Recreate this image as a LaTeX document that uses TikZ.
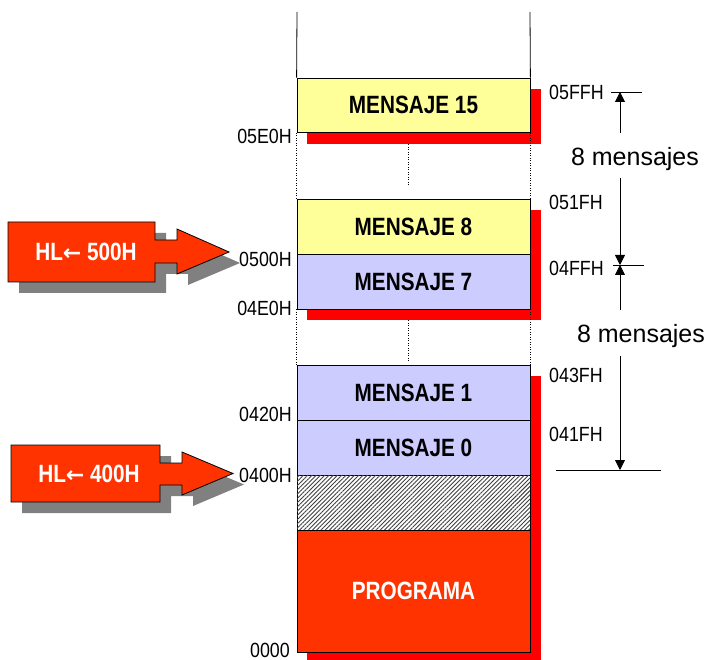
\documentclass[tikz,border=0pt]{standalone}
\usepackage{fontspec}
\setmainfont{Liberation Sans}
\newfontfamily\lblfont{Liberation Sans}[FakeStretch=0.87]
\newfontfamily\boldlbl{Liberation Sans Bold}[FakeStretch=0.83]
\newfontfamily\cntfont{Liberation Sans}
\newfontfamily\arrowfont{DejaVu Sans Bold}
\usetikzlibrary{arrows.meta,patterns.meta}
\definecolor{msgyellow}{HTML}{FFFF99}
\definecolor{msgblue}{HTML}{CCCCFF}
\definecolor{progred}{HTML}{FF3300}
\definecolor{shadowred}{HTML}{FF0000}
\definecolor{shadowgray}{HTML}{808080}
\tikzset{
  msgbox/.style={draw=black, line width=0.8pt, minimum width=233pt, inner sep=0pt,
    font=\boldlbl\fontsize{25}{28}\selectfont, text=black},
  addrl/.style={anchor=east, inner sep=0pt, font=\lblfont\fontsize{20.5}{24}\selectfont},
  addrr/.style={anchor=west, inner sep=0pt, font=\lblfont\fontsize{20.5}{24}\selectfont},
  memline/.style={line width=0.8pt},
  gapline/.style={line width=0.6pt, dash pattern=on 1pt off 1.5pt},
  redshadow/.style={fill=shadowred},
  dimarr/.style={line width=0.8pt, -{Triangle[length=10pt,width=10pt]}},
  dimline/.style={line width=0.8pt},
  hlarrow/.style={fill=progred, draw=black, line width=0.8pt},
  hlshadow/.style={fill=shadowgray},
  hltext/.style={text=white, inner sep=0pt, font=\boldlbl\fontsize{25}{28}\selectfont},
  countlbl/.style={inner sep=0pt, anchor=base, font=\cntfont\fontsize{25}{28}\selectfont},
  hatchbox/.style={draw=black, line width=0.8pt, minimum width=233pt, inner sep=0pt,
    fill=white, postaction={pattern={Lines[angle=45,distance=3pt,line width=0.9pt]}, pattern color=black!75}}
}
\newcommand{\hlarr}{{\arrowfont\fontsize{22}{26}\selectfont←}}
\begin{document}
\begin{tikzpicture}[x=1pt,y=-1pt]
\useasboundingbox (0,0) rectangle (710,660);
% red shadows
\fill[redshadow] (307,89) rectangle (541,144.5);
\fill[redshadow] (307,210) rectangle (541,320.5);
\fill[redshadow] (307,376) rectangle (541,664);
% top open column
\coordinate (topl) at (297,12);
\coordinate (topr) at (530,12);
% boxes
\node[msgbox, fill=msgyellow, minimum height=54.5pt] (m15) at (413.5,105.25) {MENSAJE 15};
\node[msgbox, fill=msgyellow, minimum height=55.5pt] (m8) at (413.5,226.75) {MENSAJE 8};
\node[msgbox, fill=msgblue, minimum height=54.5pt] (m7) at (413.5,281.75) {MENSAJE 7};
\node[msgbox, fill=msgblue, minimum height=55.3pt] (m1) at (413.5,392.65) {MENSAJE 1};
\node[msgbox, fill=msgblue, minimum height=54.7pt] (m0) at (413.5,447.65) {MENSAJE 0};
\node[hatchbox, minimum height=55.5pt] (free) at (413.5,502.75) {};
\node[msgbox, fill=progred, text=white, minimum height=121.5pt] (prog) at (413.5,591.25) {PROGRAMA};
\draw[memline] (topl) -- (m15.north west);
\draw[memline] (topr) -- (m15.north east);
% dotted gaps
\draw[gapline] (m15.south west) -- (m8.north west);
\draw[gapline] (m15.south east) -- (m8.north east);
\coordinate (g1a) at (408,144.5);
\coordinate (g1b) at (408,186.5);
\draw[gapline] (g1a) -- (g1b);
\draw[gapline] (m7.south west) -- (m1.north west);
\draw[gapline] (m7.south east) -- (m1.north east);
\coordinate (g2a) at (408,320.5);
\coordinate (g2b) at (408,363);
\draw[gapline] (g2a) -- (g2b);
% left addresses
\node[addrl] (a05e0) at (292,136) {05E0H};
\node[addrl] (a0500) at (292,259) {0500H};
\node[addrl] (a04e0) at (292,308) {04E0H};
\node[addrl] (a0420) at (292,414) {0420H};
\node[addrl] (a0400) at (292,475) {0400H};
\node[addrl] (a0000) at (290,650) {0000};
% right addresses
\node[addrr] (a05ff) at (549,92) {05FFH};
\node[addrr] (a051f) at (549,202.5) {051FH};
\node[addrr] (a04ff) at (549,268) {04FFH};
\node[addrr] (a043f) at (549,375) {043FH};
\node[addrr] (a041f) at (549,434) {041FH};
% dimension lines
\coordinate (d1l) at (611,92); \coordinate (d1r) at (642,92);
\coordinate (d2l) at (613,265); \coordinate (d2r) at (644,265);
\coordinate (d3l) at (556,470); \coordinate (d3r) at (661,470);
\draw[dimline] (d1l) -- (d1r);
\draw[dimline] (d2l) -- (d2r);
\draw[dimline] (d3l) -- (d3r);
\node[countlbl] (c1) at (635,166) {8 mensajes};
\node[countlbl] (c2) at (641,343) {8 mensajes};
\coordinate (v1a) at (620,133); \coordinate (v1b) at (620,92);
\coordinate (v2a) at (620,178); \coordinate (v2b) at (620,265);
\coordinate (v3a) at (620,310.5); \coordinate (v3b) at (620,265);
\coordinate (v4a) at (620,356); \coordinate (v4b) at (620,470);
\draw[dimarr] (v1a) -- (v1b);
\draw[dimarr] (v2a) -- (v2b);
\draw[dimarr] (v3a) -- (v3b);
\draw[dimarr] (v4a) -- (v4b);
% HL <- 500H arrow
\fill[hlshadow, shift={(11,11)}] (8,222) -- (155,222) -- (155,240) -- (177,240) -- (177,229) -- (229,252) -- (177,274) -- (177,263) -- (155,263) -- (155,282) -- (8,282) -- cycle;
\draw[hlarrow] (8,222) -- (155,222) -- (155,240) -- (177,240) -- (177,229) -- (229,252) -- (177,274) -- (177,263) -- (155,263) -- (155,282) -- (8,282) -- cycle;
\node[hltext] (hl5) at (86,252) {HL\hlarr\ 500H};
% HL <- 400H arrow
\fill[hlshadow, shift={(11,11)}] (11,445) -- (160,445) -- (160,463) -- (182,463) -- (182,452) -- (233,473.5) -- (182,495) -- (182,485) -- (160,485) -- (160,502) -- (11,502) -- cycle;
\draw[hlarrow] (11,445) -- (160,445) -- (160,463) -- (182,463) -- (182,452) -- (233,473.5) -- (182,495) -- (182,485) -- (160,485) -- (160,502) -- (11,502) -- cycle;
\node[hltext] (hl4) at (89,474) {HL\hlarr\ 400H};
\end{tikzpicture}
\end{document}
